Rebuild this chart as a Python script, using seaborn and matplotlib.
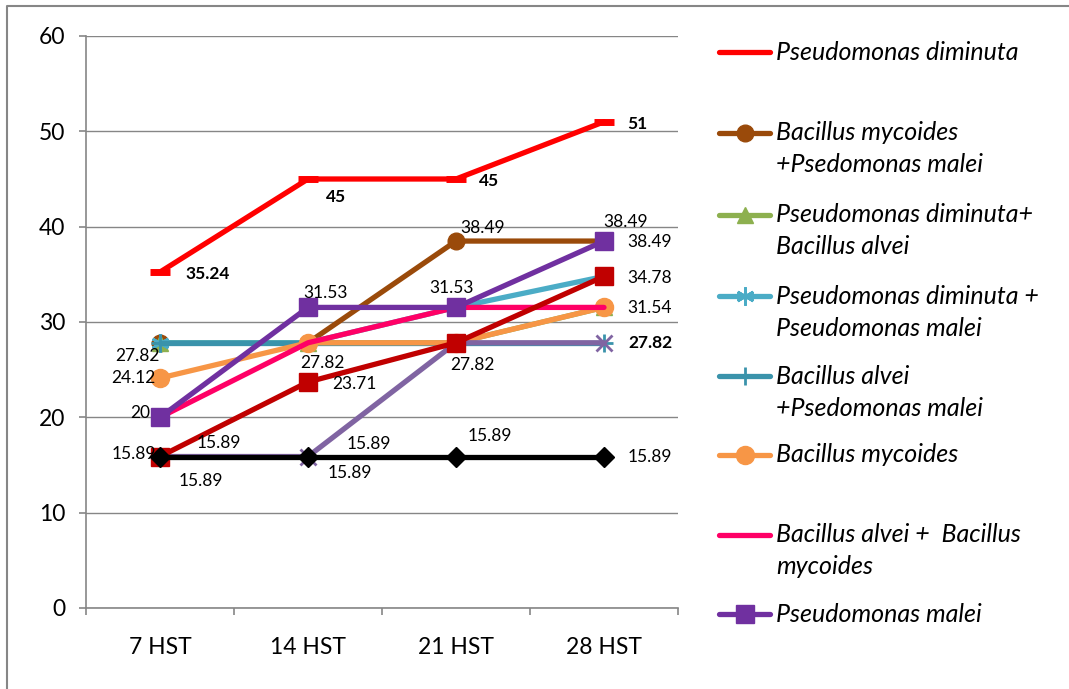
import numpy as np
import pandas as pd
import seaborn as sns
import matplotlib.pyplot as plt

hari = ["7 HST", "14 HST", "21 HST", "28 HST"]

p_diminuta = [35.24, 45, 45, 51]
bm_pm = [27.82, 27.82, 38.49, 38.49]
pd_ba = [27.82, 27.82, 27.82, 31.54]
pd_pm = [27.82, 27.82, 31.53, 34.78]
ba_pm = [27.82, 27.82, 27.82, 27.82]
b_mycoides = [24.12, 27.82, 27.82, 31.54]
ba_bm = [20, 27.82, 31.53, 31.53]
p_malei = [20, 31.53, 31.53, 38.49]
# seri yang tidak muncul di legenda (terpotong)
seri_ungu = [15.89, 15.89, 27.82, 27.82]
seri_merah = [15.89, 23.71, 27.82, 34.78]
seri_hitam = [15.89, 15.89, 15.89, 15.89]

# key, label legenda, nilai, warna, marker, ukuran marker
seri = [
    ("pd", "Pseudomonas diminuta", p_diminuta, "#FF0000", "_", 14),
    ("bmpm", "Bacillus mycoides\n+Psedomonas malei", bm_pm, "#9A4A0A", "o", 12),
    ("pdba", "Pseudomonas diminuta+\nBacillus alvei", pd_ba, "#8DB04F", "^", 12),
    ("pdpm", "Pseudomonas diminuta +\nPseudomonas malei", pd_pm, "#4BACC6", (6, 2, 0), 13),
    ("bapm", "Bacillus alvei\n+Psedomonas malei", ba_pm, "#3A93AB", "+", 13),
    ("bm", "Bacillus mycoides", b_mycoides, "#F79646", "o", 13),
    ("babm", "Bacillus alvei +  Bacillus\nmycoides", ba_bm, "#FF0066", "None", 1),
    ("pm", "Pseudomonas malei", p_malei, "#7030A0", "s", 13),
    ("ungu", None, seri_ungu, "#8064A2", "x", 12),
    ("merah", None, seri_merah, "#C00000", "s", 13),
    ("hitam", None, seri_hitam, "#000000", "D", 10),
]

# label data: key, indeks titik, geser x, geser y (piksel), tebal
label_data = [
    ("pd", 0, 48, -2, True), ("pd", 1, 28, -18, True),
    ("pd", 2, 33, -2, True), ("pd", 3, 33, -2, True),
    ("bmpm", 2, 27, 13, False), ("bmpm", 3, 22, 19, False),
    ("pm", 3, 46, -1, False), ("merah", 3, 46, -2, False),
    ("bm", 3, 46, -1, False), ("bapm", 3, 46, 0, True),
    ("hitam", 3, 46, 0, False),
    ("pm", 1, 18, 14, False), ("pm", 2, -4, 19, False),
    ("bm", 1, 14, -20, False), ("merah", 1, 46, -2, False),
    ("merah", 2, 16, -22, False), ("hitam", 1, 61, 13, False),
    ("ungu", 1, 42, -16, False), ("hitam", 2, 34, 21, False),
    ("bmpm", 0, -23, -13, False), ("bm", 0, -27, 0, False),
    ("pm", 0, -20, 4, False), ("merah", 0, -26, 3, False),
    ("hitam", 0, 59, 14, False), ("ungu", 0, 41, -24, False),
]

sns.set_style("white")
plt.rcParams["font.family"] = ["Lato", "DejaVu Sans"]
plt.rcParams["text.color"] = "black"
plt.rcParams["xtick.color"] = "black"
plt.rcParams["ytick.color"] = "black"

fig = plt.figure(figsize=(10.69, 6.89), dpi=100)
ax = fig.add_axes([86 / 1069, 1 - 608 / 689, 592 / 1069, 572 / 689])

nilai = {}
for key, lab, vals, col, mk, ms in seri:
    nilai[key] = vals
    df = pd.DataFrame({"hari": hari, "nilai": vals})
    mew = 5 if mk == "_" else (2 if mk in ("x", "+") or isinstance(mk, tuple) else 1)
    sns.lineplot(data=df, x="hari", y="nilai", sort=False, ax=ax, color=col,
                 lw=3.8, marker=mk, markersize=ms, markeredgecolor=col,
                 markeredgewidth=mew, legend=False)

for key, i, dx, dy, tebal in label_data:
    v = nilai[key][i]
    txt = "{:g}".format(v)
    ax.annotate(txt, xy=(i, v), xytext=(dx, dy), textcoords="offset pixels",
                ha="center", va="center", fontsize=12.5,
                fontweight="bold" if tebal else "normal", color="black",
                zorder=10)

abu = "#868686"
ax.set_xlim(-0.5, 3.5)
ax.set_ylim(0, 60)
ax.set_yticks(np.arange(0, 61, 10))
ax.set_xticks(range(4))
ax.set_xticklabels(hari)
ax.set_xticks(np.arange(-0.5, 3.6, 1), minor=True)
ax.set_xlabel("")
ax.set_ylabel("")
ax.grid(axis="y", color=abu, lw=1)
ax.set_axisbelow(True)
for s in ["top", "right"]:
    ax.spines[s].set_visible(False)
for s in ["left", "bottom"]:
    ax.spines[s].set_color(abu)
    ax.spines[s].set_linewidth(1.2)
ax.tick_params(axis="y", which="major", length=5, color=abu, width=1.2,
               labelsize=16.5, pad=10, left=True, labelcolor="black")
ax.tick_params(axis="x", which="major", length=0, labelsize=16.5, pad=21,
               labelcolor="black")
ax.tick_params(axis="x", which="minor", length=5, color=abu, width=1.2,
               bottom=True)

# legenda dan bingkai
lax = fig.add_axes([0, 0, 1, 1], zorder=-1)
lax.set_xlim(0, 1069)
lax.set_ylim(689, 0)
lax.axis("off")
lax.plot([7, 7, 1069], [689, 6, 6], color=abu, lw=1.5)

leg_y = [52, 133, 215, 296, 376, 455, 535, 614]
for (key, lab, vals, col, mk, ms), y in zip(seri[:8], leg_y):
    lax.plot([719, 770], [y, y], color=col, lw=3.8, solid_capstyle="round")
    if mk != "None":
        mew = 5 if mk == "_" else (2 if mk in ("x", "+") or isinstance(mk, tuple) else 1)
        lax.plot([744.5], [y], marker=mk if mk != "_" else "None",
                 markersize=ms, color=col, markeredgecolor=col,
                 markeredgewidth=mew)
    for j, baris in enumerate(lab.split("\n")):
        lax.text(776, y + 32 * j, baris, fontsize=18, style="italic",
                 va="center", ha="left", color="black")

fig.savefig("out.png", dpi=100)
